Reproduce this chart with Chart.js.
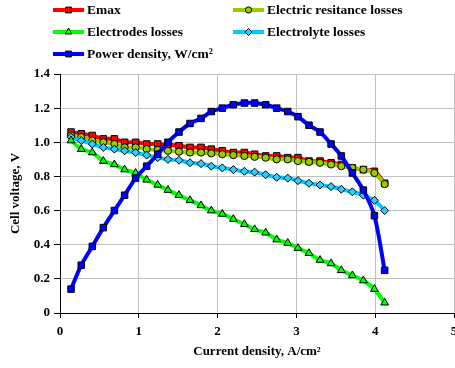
<!DOCTYPE html>
<html>
<head>
<meta charset="utf-8">
<script src="https://cdn.jsdelivr.net/npm/chart.js@4/dist/chart.umd.min.js"></script>
<style>
  body { margin: 0; background: #fff; overflow: hidden; }
  #wrap { width: 455px; height: 368px; overflow: hidden; }
</style>
</head>
<body>
<div id="wrap"><canvas id="myChart" width="470" height="368"></canvas></div>
<script>
// current density, A/cm2
const currentDensity = [0.14, 0.27, 0.41, 0.55, 0.69, 0.82, 0.96, 1.10, 1.24, 1.37,
  1.51, 1.65, 1.79, 1.92, 2.06, 2.20, 2.34, 2.47, 2.61, 2.75,
  2.89, 3.02, 3.16, 3.30, 3.44, 3.57, 3.71, 3.85, 3.99, 4.12];

const emax = [1.06, 1.05, 1.04, 1.02, 1.02, 1.00, 1.00, 0.99, 0.99, 0.985,
  0.98, 0.97, 0.97, 0.96, 0.95, 0.94, 0.94, 0.93, 0.92, 0.92,
  0.91, 0.91, 0.89, 0.89, 0.88, 0.87, 0.85, 0.84, 0.83, 0.76];

const resistanceLosses = [1.04, 1.03, 1.01, 1.00, 0.99, 0.97, 0.97, 0.96, 0.955, 0.95,
  0.945, 0.94, 0.94, 0.935, 0.93, 0.925, 0.92, 0.915, 0.91, 0.90,
  0.90, 0.89, 0.885, 0.88, 0.87, 0.86, 0.85, 0.84, 0.82, 0.755];

const electrodesLosses = [1.01, 0.96, 0.94, 0.89, 0.87, 0.84, 0.82, 0.78, 0.75, 0.72,
  0.69, 0.66, 0.63, 0.60, 0.58, 0.55, 0.52, 0.49, 0.47, 0.43,
  0.41, 0.38, 0.35, 0.31, 0.29, 0.25, 0.22, 0.19, 0.14, 0.06];

const electrolyteLosses = [1.03, 1.01, 0.99, 0.97, 0.96, 0.95, 0.94, 0.925, 0.91, 0.90,
  0.895, 0.88, 0.875, 0.86, 0.85, 0.84, 0.83, 0.825, 0.81, 0.795,
  0.79, 0.775, 0.76, 0.75, 0.74, 0.725, 0.71, 0.69, 0.66, 0.60];

const powerDensity = [0.14, 0.28, 0.39, 0.50, 0.60, 0.69, 0.79, 0.86, 0.93, 1.00,
  1.06, 1.11, 1.14, 1.18, 1.20, 1.22, 1.23, 1.23, 1.22, 1.20,
  1.18, 1.15, 1.10, 1.06, 0.99, 0.92, 0.82, 0.72, 0.57, 0.25];

const seriesNames = ['Emax', 'Electric resitance losses', 'Electrodes losses',
  'Electrolyte losses', 'Power density, W/cm\u00B2'];

const xTicks = [0, 1, 2, 3, 4, 5];
const yTicks = [0, 0.2, 0.4, 0.6, 0.8, 1, 1.2, 1.4];

const serif = "'Liberation Serif', 'Times New Roman', serif";

const toPoints = function (values) {
  return values.map(function (v, i) { return { x: currentDensity[i], y: v }; });
};

const makeSet = function (label, values, line, fill, style, radius, order) {
  return {
    label: label,
    data: toPoints(values),
    borderColor: line,
    backgroundColor: fill,
    borderWidth: 4,
    pointStyle: style,
    pointRadius: radius,
    pointBackgroundColor: fill,
    pointBorderColor: '#000',
    pointBorderWidth: 1,
    tension: 0.3,
    order: order
  };
};

// two column legend drawn on top of the canvas
const legendPlugin = {
  id: 'twoColLegend',
  afterDraw(chart) {
    const ctx = chart.ctx;
    const cols = [53, 233];
    const rows = [10, 32, 54];
    ctx.save();
    ctx.font = 'bold 13.5px ' + serif;
    ctx.textBaseline = 'middle';
    chart.data.datasets.forEach(function (ds, i) {
      const x = cols[i % 2];
      const y = rows[Math.floor(i / 2)];
      ctx.strokeStyle = ds.borderColor;
      ctx.lineWidth = 4;
      ctx.beginPath();
      ctx.moveTo(x, y);
      ctx.lineTo(x + 31, y);
      ctx.stroke();
      ctx.fillStyle = ds.pointBackgroundColor;
      ctx.strokeStyle = '#000';
      ctx.lineWidth = 1;
      Chart.helpers.drawPoint(ctx, {
        pointStyle: ds.pointStyle, radius: ds.pointRadius - 0.5, borderWidth: 1, rotation: 0
      }, x + 15.5, y);
      ctx.fillStyle = '#000';
      ctx.fillText(ds.label, x + 34, y + 1);
    });
    ctx.restore();
  }
};

const data = {
  datasets: [
    makeSet(seriesNames[0], emax, '#ff0000', '#ff0000', 'rect', 4.6, 4),
    makeSet(seriesNames[1], resistanceLosses, '#99cc00', '#99cc00', 'circle', 3.6, 3),
    makeSet(seriesNames[2], electrodesLosses, '#00ff00', '#00ff00', 'triangle', 4.5, 1),
    makeSet(seriesNames[3], electrolyteLosses, '#00ccff', '#33ccff', 'rectRot', 4, 2),
    makeSet(seriesNames[4], powerDensity, '#0000ff', '#0000ff', 'rect', 4.6, 0)
  ]
};

const config = {
  type: 'line',
  data: data,
  options: {
    responsive: false,
    animation: false,
    layout: { padding: { top: 74, right: 16, left: 0, bottom: 0 } },
    plugins: {
      legend: { display: false },
      tooltip: { enabled: false }
    },
    scales: {
      x: {
        type: 'linear',
        min: 0,
        max: 5,
        afterFit(scale) { scale.height = 55; },
        afterBuildTicks(scale) { scale.ticks = xTicks.map(function (v) { return { value: v }; }); },
        grid: { color: '#c0c0c0', tickColor: '#000', tickLength: 5 },
        border: { color: '#000', width: 1 },
        ticks: {
          color: '#000', padding: 6,
          font: { family: serif, size: 13, weight: 'bold' }
        },
        title: {
          display: true,
          text: 'Current density, A/cm\u00B2',
          color: '#000',
          padding: { top: 2, bottom: 9 },
          font: { family: serif, size: 13, weight: 'bold' }
        }
      },
      y: {
        min: 0,
        max: 1.4,
        afterFit(scale) { scale.width = 60; },
        afterBuildTicks(scale) { scale.ticks = yTicks.map(function (v) { return { value: v }; }); },
        grid: { color: '#c0c0c0', tickColor: '#000', tickLength: 6 },
        border: { color: '#000', width: 1 },
        ticks: {
          color: '#000', padding: 4,
          font: { family: serif, size: 13, weight: 'bold' }
        },
        title: {
          display: true,
          text: 'Cell voltage, V',
          color: '#000',
          padding: { top: 8, bottom: 0 },
          font: { family: serif, size: 13, weight: 'bold' }
        }
      }
    }
  },
  plugins: [legendPlugin]
};

const myChart = new Chart(document.getElementById('myChart'), config);
</script>
</body>
</html>
